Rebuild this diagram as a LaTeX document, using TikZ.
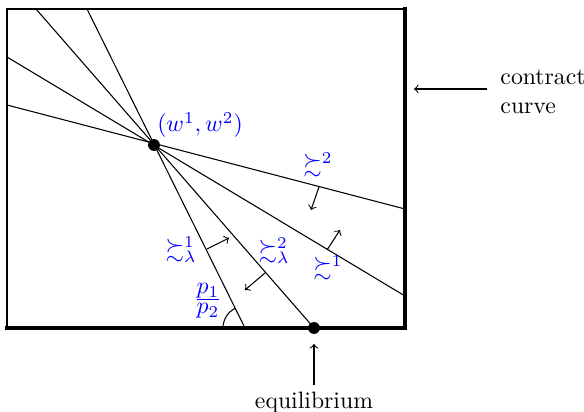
\documentclass[tikz,border=0pt]{standalone}
\usepackage{amssymb}
\usepackage{amsmath}
\begin{document}
\begin{tikzpicture}[x=0.4217pt,y=-0.4217pt,
  thinline/.style={line width=0.45pt},
  thickline/.style={line width=1.7pt},
  pref/.style={thinline,->},
  lbl/.style={text=blue,inner sep=0pt},
  dot/.style={circle,fill=black,inner sep=0pt,minimum size=5pt}]
\useasboundingbox (0,0) rectangle (584,412);
% box corners
\coordinate (TL) at (7,9);
\coordinate (TR) at (405,9);
\coordinate (BL) at (7,328);
\coordinate (BR) at (405,328);
\draw[thinline] (BL) -- (TL) -- (TR);
\draw[thickline,line cap=rect] (BL) -- (BR) -- (TR);
% lines through endowment
\coordinate (W) at (154,145);
\coordinate (A1) at (87,9);   \coordinate (B1) at (245,328);
\coordinate (A2) at (36,9);   \coordinate (E) at (314,328);
\coordinate (A3) at (7,57);   \coordinate (B3) at (405,296);
\coordinate (A4) at (7,105);  \coordinate (B4) at (405,209);
\draw[thinline] (A1) -- (B1);
\draw[thinline] (A2) -- (E);
\draw[thinline] (A3) -- (B3);
\draw[thinline] (A4) -- (B4);
\node[dot] (Wd) at (W) {};
\node[dot] (Ed) at (E) {};
% arc for price ratio
\draw[thinline] (223,328) arc[start angle=180,end angle=244,radius=22];
% preference arrows
\coordinate (s1) at (207,249); \coordinate (t1) at (229,238);
\coordinate (s2) at (265,273); \coordinate (t2) at (245,290);
\coordinate (s3) at (327,250); \coordinate (t3) at (340,230);
\coordinate (s4) at (319,187); \coordinate (t4) at (311,210);
\draw[pref] (s1) -- (t1);
\draw[pref] (s2) -- (t2);
\draw[pref] (s3) -- (t3);
\draw[pref] (s4) -- (t4);
% labels
\node[lbl] (lw) at (200,125) {$(w^1,w^2)$};
\node[lbl] (l4) at (318,165) {$\succsim^2$};
\node[lbl] (l3) at (328,268) {$\succsim^1$};
\node[lbl] (l1) at (181,250) {$\succsim^1_\lambda$};
\node[lbl] (l2) at (274,251) {$\succsim^2_\lambda$};
\node[lbl] (lp) at (208,301) {$\frac{\textstyle p_1}{\textstyle p_2}$};
% annotations
\node[anchor=west,align=left,inner sep=0pt] (cc) at (500,92) {contract\\curve};
\coordinate (cct) at (414,89);
\draw[thinline,->] (487,89) coordinate (ccs) -- (cct);
\node[inner sep=0pt] (eq) at (314,403) {equilibrium};
\coordinate (eqs) at (314,385);
\coordinate (eqt) at (314,344);
\draw[thinline,->] (eqs) -- (eqt);
\end{tikzpicture}
\end{document}
